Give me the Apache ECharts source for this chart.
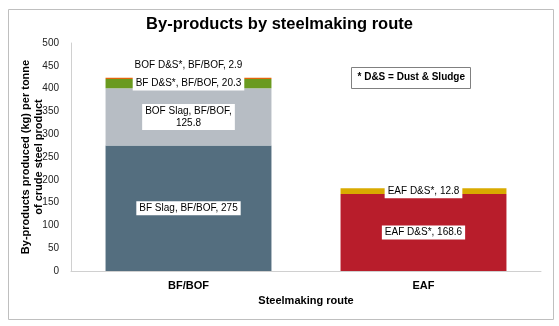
<!DOCTYPE html>
<html>
<head>
<meta charset="utf-8">
<script src="https://cdn.jsdelivr.net/npm/echarts@6/dist/echarts.min.js"></script>
<style>
  html, body { margin: 0; padding: 0; background: #fff; }
  #chart { width: 559px; height: 326px; }
</style>
</head>
<body>
<div id="chart"></div>
<script>
// Steelmaking routes on the category axis
const routes = ['BF/BOF', 'EAF'];

// Stacked by-product quantities (kg per tonne of crude steel), one array per segment
const bfSlag   = [275, null];
const bofSlag  = [125.8, null];
const bfDust   = [20.3, null];
const bofDust  = [2.9, null];
const eafDust  = [null, 168.6];
const eafDust2 = [null, 12.8];

// Segment label texts
const bfSlagLabel  = 'BF Slag, BF/BOF, 275';
const bofSlagLabel = 'BOF Slag, BF/BOF,\n125.8';
const bfDustLabel  = 'BF D&S*, BF/BOF, 20.3';
const bofDustLabel = 'BOF D&S*, BF/BOF, 2.9';
const eafDustLabel  = 'EAF D&S*, 168.6';
const eafDust2Label = 'EAF D&S*, 12.8';

const yTicks = { min: 0, max: 500, interval: 50 };

const FONT = '"Liberation Sans", Arial, sans-serif';

function boxLabel(text, position, extra) {
  return Object.assign({
    show: true,
    position: position,
    formatter: text,
    color: '#000',
    fontFamily: FONT,
    fontSize: 10,
    lineHeight: 12,
    backgroundColor: '#fff',
    padding: [1, 3, 1, 3]
  }, extra || {});
}

function segment(name, data, color, label) {
  return {
    name: name,
    type: 'bar',
    stack: 'total',
    data: data,
    barWidth: '70.6%',
    itemStyle: { color: color },
    label: label,
    silent: true
  };
}

const chart = echarts.init(document.getElementById('chart'), null, { renderer: 'canvas' });

chart.setOption({
  animation: false,
  backgroundColor: '#fff',
  title: {
    text: 'By-products by steelmaking route',
    left: 'center',
    top: 11,
    textStyle: { fontFamily: FONT, fontSize: 16.5, fontWeight: 'bold', color: '#000' }
  },
  grid: { left: 71, right: 18, top: 43, bottom: 55 },
  xAxis: {
    type: 'category',
    data: routes,
    name: 'Steelmaking route',
    nameLocation: 'middle',
    nameGap: 24,
    nameTextStyle: { fontFamily: FONT, fontSize: 11, fontWeight: 'bold', color: '#000' },
    axisLine: { lineStyle: { color: '#D0D0D0', width: 1 } },
    axisTick: { show: false },
    axisLabel: { fontFamily: FONT, fontSize: 11, fontWeight: 'bold', color: '#000', margin: 9 }
  },
  yAxis: {
    type: 'value',
    min: yTicks.min,
    max: yTicks.max,
    interval: yTicks.interval,
    name: 'By-products produced (kg) per tonne\nof crude steel product',
    nameLocation: 'middle',
    nameGap: 26,
    nameMoveOverlap: false,
    nameTextStyle: { fontFamily: FONT, fontSize: 11, fontWeight: 'bold', color: '#000', lineHeight: 13 },
    axisLine: { show: true, lineStyle: { color: '#D0D0D0', width: 1 } },
    axisTick: { show: false },
    splitLine: { show: false },
    axisLabel: { fontFamily: FONT, fontSize: 10, color: '#222', margin: 12 }
  },
  series: [
    segment('BF Slag', bfSlag, '#546E7F', boxLabel(bfSlagLabel, 'inside')),
    segment('BOF Slag', bofSlag, '#B7BDC4', boxLabel(bofSlagLabel, 'inside', { align: 'center' })),
    segment('BF D&S*', bfDust, '#6A9A1F', boxLabel(bfDustLabel, 'inside')),
    segment('BOF D&S*', bofDust, '#E4650A', boxLabel(bofDustLabel, 'top', { distance: 5 })),
    segment('EAF D&S* (main)', eafDust, '#B81D2B', boxLabel(eafDustLabel, 'inside')),
    segment('EAF D&S*', eafDust2, '#D9AA00', boxLabel(eafDust2Label, 'inside'))
  ],
  graphic: [
    {
      type: 'rect',
      left: 6, top: 7,
      shape: { width: 545, height: 310 },
      style: { fill: 'none', stroke: '#BFBFBF', lineWidth: 1 },
      silent: true,
      z: 100
    },
    {
      type: 'group',
      left: 351, top: 67,
      children: [
        {
          type: 'rect',
          shape: { width: 119, height: 21 },
          style: { fill: '#fff', stroke: '#808080', lineWidth: 1 }
        },
        {
          type: 'text',
          left: 6, top: 5,
          style: { text: '* D&S = Dust & Sludge', fontFamily: FONT, fontSize: 10, fontWeight: 'bold', fill: '#000' }
        }
      ]
    }
  ]
});
</script>
</body>
</html>
